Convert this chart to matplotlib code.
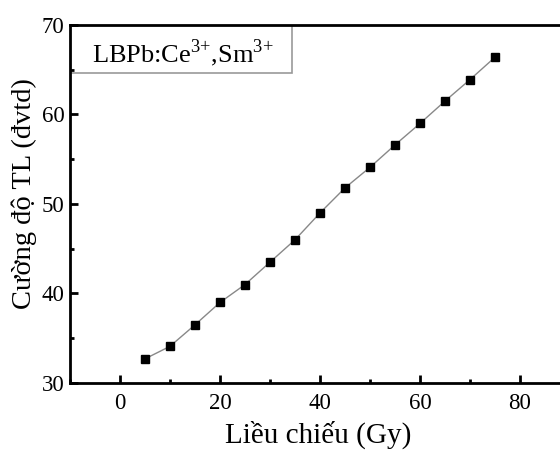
import matplotlib
matplotlib.use("Agg")
import matplotlib.pyplot as plt
from matplotlib.patches import Rectangle
from matplotlib.ticker import MultipleLocator

plt.rcParams['font.family'] = ['Liberation Serif', 'DejaVu Serif']
plt.rcParams['mathtext.fontset'] = 'custom'
plt.rcParams['mathtext.rm'] = 'Liberation Serif'

# dose (Gy) and TL intensity (a.u.)
dose = [5, 10, 15, 20, 25, 30, 35, 40, 45, 50, 55, 60, 65, 70, 75]
intensity = [32.7, 34.1, 36.5, 39.0, 41.0, 43.5, 46.0, 49.0, 51.8, 54.1,
             56.6, 59.0, 61.5, 63.9, 66.4]

fig = plt.figure(figsize=(5.6, 4.51), dpi=100)
# right edge of the axes falls just outside the picture
ax = fig.add_axes([70 / 560, 1 - 383 / 451, 500 / 560, 358 / 451])

ax.plot(dose, intensity, color='#888888', linewidth=1, zorder=2)
ax.plot(dose, intensity, 's', color='black', markersize=6, zorder=3)

ax.set_xlim(-10, 90)
ax.set_ylim(30, 70)
ax.xaxis.set_major_locator(MultipleLocator(20))
ax.xaxis.set_minor_locator(MultipleLocator(10))
ax.yaxis.set_major_locator(MultipleLocator(10))
ax.yaxis.set_minor_locator(MultipleLocator(5))
ax.tick_params(which='major', direction='in', length=6, width=2, labelsize=16.5)
ax.tick_params(which='minor', direction='in', length=3, width=2)
ax.tick_params(axis='x', pad=7)
ax.tick_params(axis='y', pad=4)
for side in ['left', 'bottom', 'top']:
    ax.spines[side].set_linewidth(2)

ax.set_xlabel('Liều chiếu (Gy)', fontsize=21)
ax.xaxis.set_label_coords(0.496, -0.105)
ax.set_ylabel('Cường độ TL (đvtd)', fontsize=20.5)
ax.yaxis.set_label_coords(-0.066, 0.53)

# sample name box in the upper-left corner
ax.add_patch(Rectangle((0, 0.866), 0.444, 0.134, transform=ax.transAxes,
                       facecolor='white', edgecolor='#999999', linewidth=1.2,
                       zorder=1))
ax.text(0.044, 0.897, r'LBPb:Ce$^{3{+}}$,Sm$^{3{+}}$', transform=ax.transAxes,
        fontsize=19, va='baseline', ha='left', zorder=4)

fig.savefig('out.png', dpi=100)
